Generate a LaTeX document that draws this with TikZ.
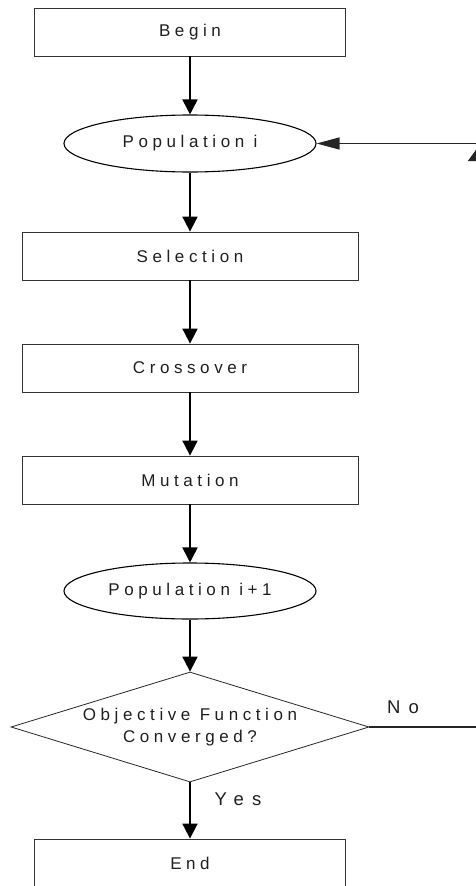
\documentclass[tikz,border=0pt]{standalone}
\usepackage{fontspec}
\setmainfont{Liberation Sans}
\newfontfamily\boxfont[LetterSpace=27]{Liberation Sans}
\newfontfamily\labelfont[LetterSpace=45]{Liberation Sans}
\usetikzlibrary{shapes.geometric,arrows.meta}

\begin{document}
\begin{tikzpicture}[x=1pt,y=-1pt,
  txt/.style={text=black!88, font=\boxfont\fontsize{17}{22}\selectfont},
  stepbox/.style={txt, draw=black!80, line width=0.8pt, rectangle,
    minimum height=48pt, inner sep=0pt},
  wide/.style={stepbox, minimum width=336pt},
  narrow/.style={stepbox, minimum width=311pt},
  popnode/.style={txt, draw=black, line width=1.1pt, ellipse,
    minimum width=252pt, minimum height=57pt, inner sep=0pt},
  decision/.style={txt, draw=black!85, line width=0.8pt, diamond,
    aspect=3.25, minimum width=358pt, minimum height=110pt, inner sep=0pt,
    align=center},
  branch/.style={text=black!88, font=\labelfont\fontsize{18.5}{22}\selectfont},
  flow/.style={line width=1.8pt, -{Triangle[length=15pt,width=15pt]}},
  back/.style={line width=1.3pt, draw=black!85},
]
\useasboundingbox (0,0) rectangle (476,886);

% main column of steps
\node[narrow]  (begin) at (190,32)  {Begin};
\node[popnode] (popi)  at (190,143.5) {Population i};
\node[wide]    (sel)   at (190,256) {Selection};
\node[wide]    (cross) at (190,368) {Crossover};
\node[wide]    (mut)   at (190,480) {Mutation};
\node[popnode, minimum height=56pt] (popn) at (190,591) {Population i+1};
\node[decision] (conv) at (190,727) {Objective Function\\Converged?};
\node[narrow]  (fin)   at (190,863) {End};

% downward flow
\draw[flow] (begin) -- (popi);
\draw[flow] (popi) -- (sel);
\draw[flow] (sel) -- (cross);
\draw[flow] (cross) -- (mut);
\draw[flow] (mut) -- (popn);
\draw[flow] (popn) -- (conv);
\draw[flow] (conv) -- (fin);

% return loop on the right
\coordinate (rlow) at (478,727);
\coordinate (rup)  at (478,147);
\coordinate (rtop) at (478,143.5);
\draw[back, -{Triangle[length=14pt,width=20pt]}] (conv.east) -- (rlow) -- (rup);
\draw[back, -{Triangle[length=23pt,width=12pt]}] (rtop) -- (popi.east);

% branch labels
\node[branch] (no)  at (403,707) {No};
\node[branch] (yes) at (238,799) {Yes};
\end{tikzpicture}
\end{document}
